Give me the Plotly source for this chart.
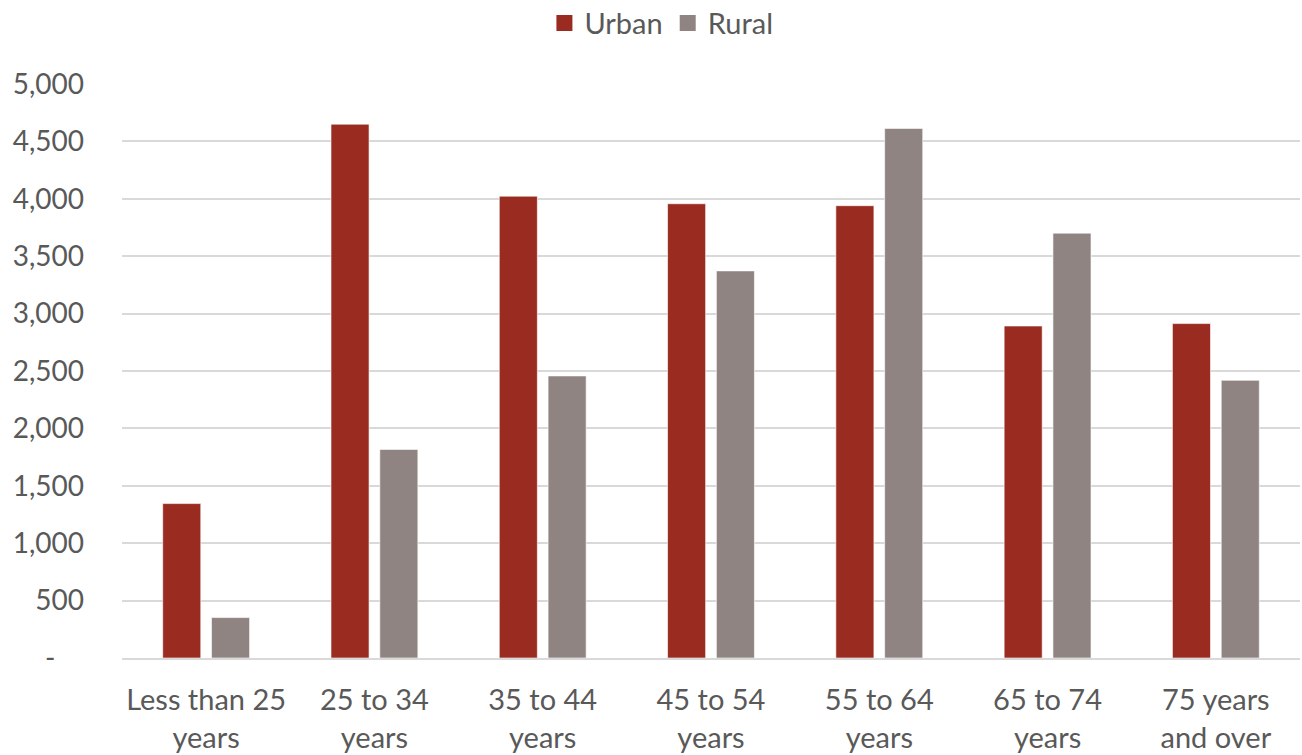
import plotly.graph_objects as go

categories = ["Less than 25<br>years", "25 to 34<br>years", "35 to 44<br>years",
              "45 to 54<br>years", "55 to 64<br>years", "65 to 74<br>years",
              "75 years<br>and over"]
urban = [1345, 4650, 4023, 3957, 3940, 2892, 2913]
rural = [352, 1817, 2457, 3372, 4613, 3701, 2419]

y_tickvals = [0, 500, 1000, 1500, 2000, 2500, 3000, 3500, 4000, 4500, 5000]
y_ticktext = ["-\u00a0\u00a0\u00a0\u00a0", "500", "1,000", "1,500", "2,000", "2,500",
              "3,000", "3,500", "4,000", "4,500", "5,000"]

URBAN_COLOR = "#9A2B20"
RURAL_COLOR = "#8F8482"
TEXT_COLOR = "#595959"
GRID_COLOR = "#D9D9D9"
FONT = "Lato"

fig = go.Figure()
for name, vals, color in [("Urban", urban, URBAN_COLOR), ("Rural", rural, RURAL_COLOR)]:
    fig.add_trace(go.Bar(name=name, x=categories, y=vals, showlegend=False,
                         marker=dict(color=color,
                                     line=dict(color="rgba(255,255,255,0.6)", width=1))))

# Legend entries drawn as larger square swatches
for name, color in [("Urban", URBAN_COLOR), ("Rural", RURAL_COLOR)]:
    fig.add_trace(go.Scatter(name=name, x=[None], y=[None], mode="markers",
                             marker=dict(symbol="square", size=17, color=color)))

fig.update_layout(
    width=1302, height=755,
    margin=dict(l=122, r=2, t=84, b=97, autoexpand=False),
    paper_bgcolor="white", plot_bgcolor="white",
    barmode="group", bargap=0.42, bargroupgap=0.22,
    font=dict(family=FONT, size=28, color=TEXT_COLOR),
    legend=dict(orientation="h", xref="container", yref="container",
                x=0.508, xanchor="center", y=0.9695, yanchor="middle",
                font=dict(family=FONT, size=29, color=TEXT_COLOR),
                itemwidth=30, tracegroupgap=0),
    showlegend=True,
)
fig.update_xaxes(showgrid=False, showline=True, linecolor=GRID_COLOR, linewidth=2,
                 ticks="", ticklabelstandoff=15, automargin=False,
                 tickfont=dict(family=FONT, size=29, color=TEXT_COLOR))
fig.update_yaxes(range=[0, 5000], tickvals=y_tickvals, ticktext=y_ticktext,
                 showgrid=True, gridcolor=GRID_COLOR, gridwidth=2,
                 zeroline=False, showline=False, ticks="", automargin=False,
                 ticklabelstandoff=37,
                 tickfont=dict(family=FONT, size=28, color=TEXT_COLOR))

fig.write_html("out.html")
